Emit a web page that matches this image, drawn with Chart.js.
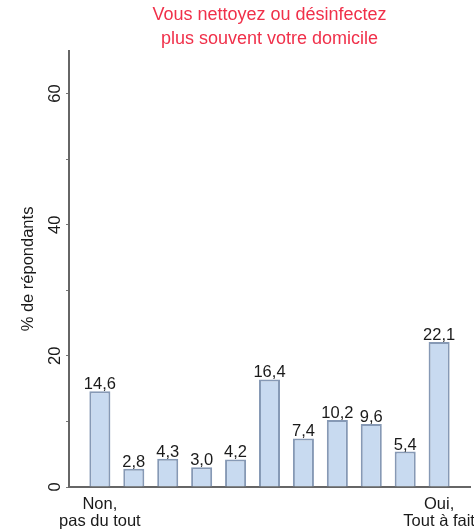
<!DOCTYPE html>
<html>
<head>
<meta charset="utf-8">
<script src="https://cdn.jsdelivr.net/npm/chart.js@4"></script>
<style>
  html, body { margin: 0; padding: 0; background: #fff; }
  #wrap { width: 474px; height: 531px; }
</style>
</head>
<body>
<div id="wrap"><canvas id="myChart" width="474" height="531"></canvas></div>
<script>
const titleLines = ['Vous nettoyez ou désinfectez', 'plus souvent votre domicile'];
const yTitle = '% de répondants';
const positions = [0, 1, 2, 3, 4, 5, 6, 7, 8, 9, 10];
const values = [14.6, 2.8, 4.3, 3.0, 4.2, 16.4, 7.4, 10.2, 9.6, 5.4, 22.1];
const xTickValues = [0, 10];
const xTickLabels = [['Non,', 'pas du tout'], ['Oui,', 'Tout à fait']];
const yLabelEvery = 20;

const FONT = "'Liberation Sans', Arial, sans-serif";

// value labels on top of the bars, comma as decimal sign
const barLabels = {
  id: 'barLabels',
  afterDatasetsDraw(chart) {
    const ctx = chart.ctx;
    const meta = chart.getDatasetMeta(0);
    ctx.save();
    ctx.font = '16.5px ' + FONT;
    ctx.fillStyle = '#1a1a1a';
    ctx.textAlign = 'center';
    ctx.textBaseline = 'alphabetic';
    meta.data.forEach((bar, i) => {
      ctx.fillText(values[i].toFixed(1).replace('.', ','), bar.x, bar.y - 2);
    });
    ctx.restore();
  }
};

window.onload = function() {
  const ctx = document.getElementById('myChart').getContext('2d');
  new Chart(ctx, {
    type: 'bar',
    data: {
      datasets: [{
        data: positions.map((p, i) => ({ x: p, y: values[i] })),
        backgroundColor: '#c8daf0',
        borderColor: '#8699b5',
        borderWidth: 2,
        categoryPercentage: 1,
        barPercentage: 0.62
      }]
    },
    options: {
      responsive: false,
      animation: false,
      layout: { padding: { left: 0, top: 0, bottom: 0, right: 4 } },
      plugins: {
        legend: { display: false },
        tooltip: { enabled: false },
        title: {
          display: true,
          fullSize: false,
          text: titleLines,
          color: '#f0304a',
          font: { family: FONT, size: 18, weight: 'normal', lineHeight: 1.333 },
          padding: { top: 3, bottom: 0 }
        }
      },
      scales: {
        x: {
          type: 'linear',
          offset: false,
          min: -0.91,
          max: 10.91,
          afterBuildTicks: scale => { scale.ticks = xTickValues.map(v => ({ value: v })); },
          afterFit: scale => { scale.height = 44; scale.paddingLeft = 0; scale.paddingRight = 0; },
          ticks: {
            autoSkip: false,
            maxRotation: 0,
            padding: 9,
            color: '#1a1a1a',
            font: { family: FONT, size: 16.5, lineHeight: 1.02 },
            callback: v => xTickLabels[xTickValues.indexOf(v)]
          },
          grid: { display: false, drawTicks: false, offset: false },
          border: { display: true, color: '#666', width: 2 }
        },
        y: {
          min: 0,
          max: 66.5,
          afterFit: scale => { scale.width = 69; },
          ticks: {
            stepSize: 10,
            includeBounds: false,
            minRotation: 90,
            maxRotation: 90,
            crossAlign: 'center',
            padding: 1,
            color: '#1a1a1a',
            font: { family: FONT, size: 16.5 },
            callback: v => (v % yLabelEvery === 0 ? v : '')
          },
          grid: { drawOnChartArea: false, tickLength: 3, color: '#777' },
          border: { display: true, color: '#666', width: 2 },
          title: {
            display: true,
            text: yTitle,
            color: '#1a1a1a',
            font: { family: FONT, size: 16.5 },
            padding: { top: 19, bottom: 0 }
          }
        }
      }
    },
    plugins: [barLabels]
  });
};
</script>
</body>
</html>
